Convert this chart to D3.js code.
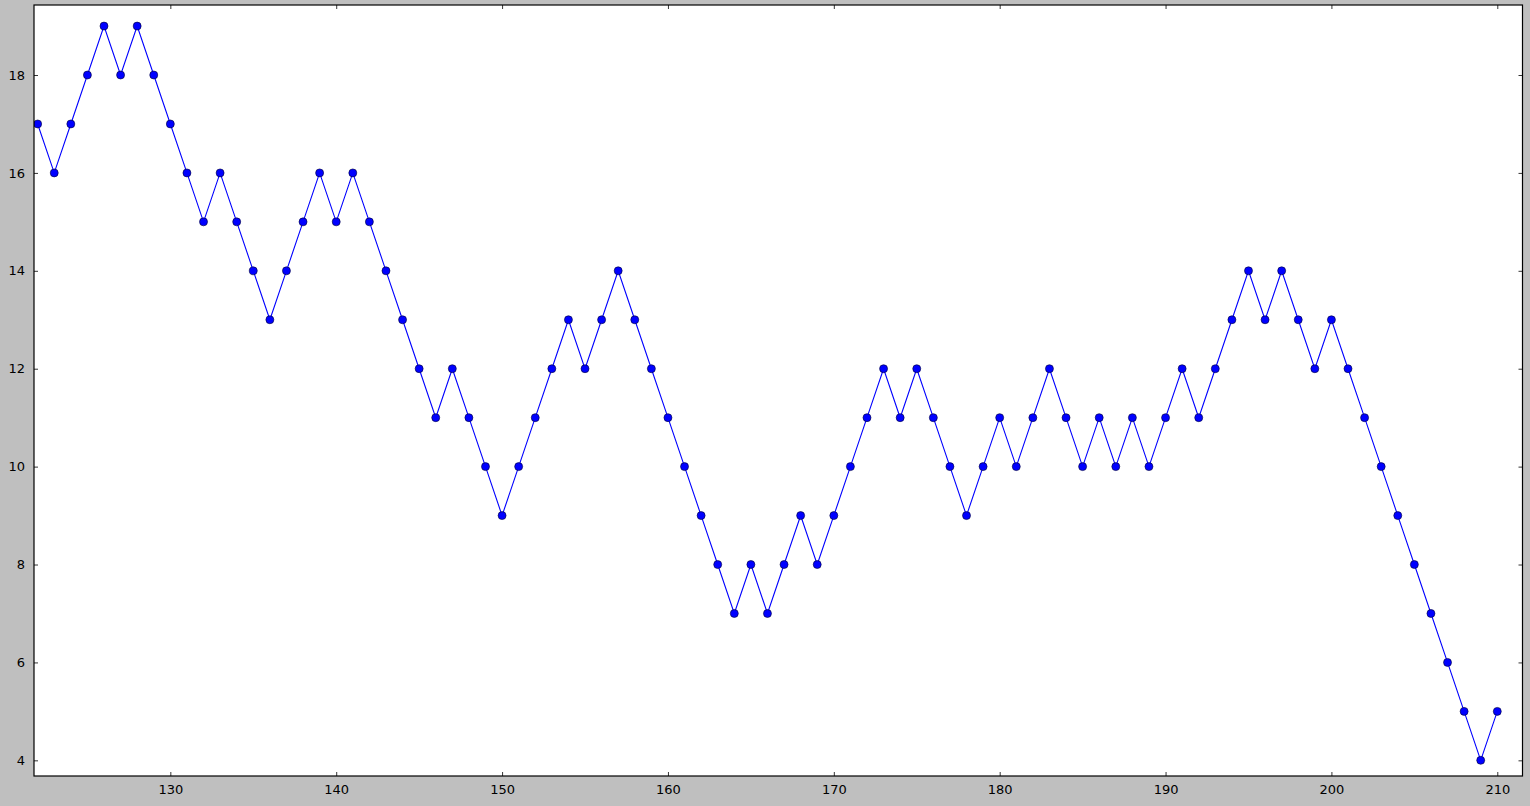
<!DOCTYPE html>
<html><head><meta charset="utf-8">
<script src="https://cdn.jsdelivr.net/npm/d3@7"></script>
<style>
html,body{margin:0;padding:0;background:#bfbfbf;}
svg{display:block;}
text{font-family:"DejaVu Sans",sans-serif;font-size:13px;fill:#000;}
</style></head><body>
<script>
const xValues = d3.range(122, 211);
const yValues = [17,16,17,18,19,18,19,18,17,16,15,16,15,14,13,14,15,16,15,16,15,14,13,12,11,12,11,10,9,10,11,12,13,12,13,14,13,12,11,10,9,8,7,8,7,8,9,8,9,10,11,12,11,12,11,10,9,10,11,10,11,12,11,10,11,10,11,10,11,12,11,12,13,14,13,14,13,12,13,12,11,10,9,8,7,6,5,4,5];
const xTicks = [130,140,150,160,170,180,190,200,210];
const yTicks = [4,6,8,10,12,14,16,18];
const xDomain = [121.78, 211.52];
const yDomain = [3.68, 19.43];

(function(){
const W = 1530, H = 806;
const L = 34, R = 1522.5, T = 5, B = 776;
const svg = d3.select("body").append("svg").attr("width", W).attr("height", H);
svg.append("rect").attr("x",0).attr("y",0).attr("width",W).attr("height",H).attr("fill","#bfbfbf");
svg.append("rect").attr("x",L).attr("y",T).attr("width",R-L).attr("height",B-T).attr("fill","#fff");

const x = d3.scaleLinear().domain(xDomain).range([L, R]);
const y = d3.scaleLinear().domain(yDomain).range([B, T]);
const data = xValues.map((v,i)=>({x:v,y:yValues[i]}));

svg.append("clipPath").attr("id","c").append("rect").attr("x",L).attr("y",T).attr("width",R-L).attr("height",B-T);
const g = svg.append("g").attr("clip-path","url(#c)");
g.append("path").datum(data).attr("fill","none").attr("stroke","#0000ff").attr("stroke-width",1.1)
  .attr("d", d3.line().x(d=>x(d.x)).y(d=>y(d.y)));
g.selectAll("circle").data(data).join("circle").attr("cx",d=>x(d.x)).attr("cy",d=>y(d.y)).attr("r",4)
  .attr("fill","#0000ff").attr("stroke","#000033").attr("stroke-width",0.6);

const ax = svg.append("g");
ax.append("g").attr("transform",`translate(0,${B})`).call(d3.axisBottom(x).tickValues(xTicks).tickFormat(d3.format("d")).tickSizeInner(-4).tickSizeOuter(0).tickPadding(9));
ax.append("g").attr("transform",`translate(0,${T})`).call(d3.axisTop(x).tickValues(xTicks).tickFormat("").tickSizeInner(-4).tickSizeOuter(0));
ax.append("g").attr("transform",`translate(${L},0)`).call(d3.axisLeft(y).tickValues(yTicks).tickFormat(d3.format("d")).tickSizeInner(-4).tickSizeOuter(0).tickPadding(9));
ax.append("g").attr("transform",`translate(${R},0)`).call(d3.axisRight(y).tickValues(yTicks).tickFormat("").tickSizeInner(-4).tickSizeOuter(0));
ax.selectAll(".domain").remove();
ax.selectAll(".tick line").attr("stroke","#000").attr("stroke-width",0.8);
ax.selectAll("text").attr("font-family","DejaVu Sans").attr("font-size","13px").attr("fill","#000");
svg.append("rect").attr("x",L).attr("y",T).attr("width",R-L).attr("height",B-T).attr("fill","none").attr("stroke","#000").attr("stroke-width",1.2);
})();
</script>
</body></html>
